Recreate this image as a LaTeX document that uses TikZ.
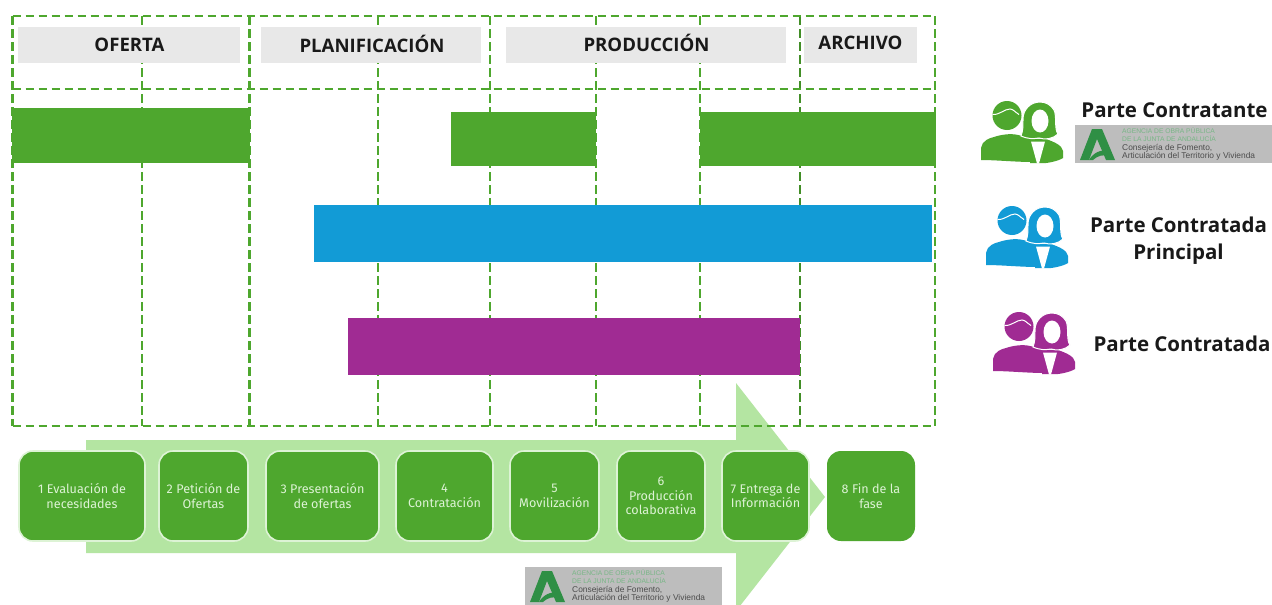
\documentclass[tikz,border=0pt]{standalone}
\usepackage{fontspec}
\setmainfont{Liberation Sans}
\newfontfamily\boxfont{Fira Sans}
\newfontfamily\headfont{Open Sans}
\definecolor{cgreen}{HTML}{4EA72E}
\definecolor{cblue}{HTML}{129BD6}
\definecolor{cpurple}{HTML}{A02B93}
\definecolor{clight}{HTML}{B4E5A2}
\definecolor{cgrey}{HTML}{E8E8E8}
\definecolor{clogo}{HTML}{BDBDBD}
\definecolor{clogoA}{HTML}{2F8F45}
\definecolor{cboxtext}{HTML}{DDF3D5}
\tikzset{
  x=1pt,y=-1pt,
  gridline/.style={draw=cgreen,line width=2.2pt,dash pattern=on 8.5pt off 4.5pt},
  thingrid/.style={draw=cgreen!85!black,line width=1.2pt,dash pattern=on 8.5pt off 4.5pt},
  header/.style={fill=cgrey,inner sep=0pt,anchor=center},
  headtext/.style={inner sep=0pt,text=black!90,font=\headfont\fontsize{18.6}{22}\selectfont\bfseries},
  stage/.style={fill=cgreen,draw=cboxtext,line width=1.6pt,rounded corners=14pt,inner sep=0pt,minimum height=90pt,align=center,text=cboxtext,font=\boxfont\fontsize{12.6}{14.5}\selectfont},
  legend/.style={align=center,font=\headfont\fontsize{20.5}{27}\selectfont\bfseries,text=black!90},
  logotext/.style={anchor=west,inner sep=0pt},
  logohi/.style={logotext,text=clogoA!65!white,font=\fontsize{6.7}{8}\selectfont},
  logolo/.style={logotext,text=black!70,font=\fontsize{8.4}{8}\selectfont},
  pics/people/.style={code={
    % man
    \fill[#1] (27,13.5) circle (14.5);
    \draw[white,line width=1pt] (12.5,12.5) .. controls (20,13) and (24,7) .. (30,7) .. controls (33,7) and (35,10) .. (39,12.5);
    \fill[#1] (1,58) -- (1,46) .. controls (2,39) and (9,36) .. (14,35) .. controls (20,33) and (30,31) .. (38,33) -- (52,36) -- (52,60) .. controls (36,60) and (16,58) .. (1,58) -- cycle;
    % woman
    \fill[#1] (66,37) .. controls (74,40) and (82,43) .. (83,49) -- (83,56) .. controls (80,58) and (74,60) .. (66,61) -- (50,61) -- (50,37) -- cycle;
    \filldraw[#1,draw=white,line width=1pt] (60,0) .. controls (50,0) and (43,8) .. (43,17) .. controls (43,24) and (43,29) .. (41,34) .. controls (48,37) and (53,37) .. (59,36) .. controls (65,38) and (73,37) .. (78,32) .. controls (74,27) and (77,14) .. (74,8) .. controls (71,3) and (66,0) .. (60,0) -- cycle;
    \fill[white] (60,19) ellipse (8.5 and 11.5);
    \fill[white] (51,39.5) -- (65,39.5) -- (59,61.5) -- (57,61.5) -- cycle;
  }},
  pics/logo/.style={code={
    \fill[clogo] (0,0) rectangle (197,38);
    \fill[clogoA] (17,4) -- (27,4) -- (40,35) -- (31,35) -- (22,14) -- (14,35) -- (5,35) -- cycle;
    \fill[clogoA] (14,35) .. controls (18,28) and (26,24) .. (33,26) -- (35,31) .. controls (28,29) and (22,31) .. (18,35) -- cycle;
    \node[logohi] (-a) at (47,6) {AGENCIA DE OBRA PÚBLICA};
    \node[logohi] (-b) at (47,14) {DE LA JUNTA DE ANDALUCÍA};
    \node[logolo] (-c) at (47,23) {Consejería de Fomento,};
    \node[logolo] (-d) at (47,31) {Articulación del Territorio y Vivienda};
  }}
}
\begin{document}
\begin{tikzpicture}
\clip (0,0) rectangle (1272,605);
\fill[white] (0,0) rectangle (1272,605);
% arrow
\fill[clight] (86,440) -- (736,440) -- (736,383) -- (825,497) -- (736,611) -- (736,553) -- (86,553) -- cycle;
% grid
\foreach \x in {12.5,142,249.5,378,490,596,700,935}
  \draw[gridline] (\x,16) -- (\x,426);
\draw[thingrid] (800,16) -- (800,426);
\foreach \y in {16,89,426}
  \draw[gridline] (12.5,\y) -- (935,\y);
% headers
\node[header,minimum width=222pt,minimum height=36pt] (h1) at (129,45) {};
\node[header,minimum width=220pt,minimum height=36pt] (h2) at (371,45) {};
\node[header,minimum width=280pt,minimum height=36pt] (h3) at (646,45) {};
\node[header,minimum width=113pt,minimum height=36pt] (h4) at (860.5,45) {};
\node[headtext] (h1t) at (129.5,45) {OFERTA};
\node[headtext] (h2t) at (372,44) {PLANIFICACIÓN};
\node[headtext] (h3t) at (646.5,42.5) {PRODUCCIÓN};
\node[headtext] (h4t) at (860.5,43) {ARCHIVO};
% bars
\fill[cgreen] (12,108) rectangle (249.5,163);
\fill[cgreen] (451,112) rectangle (596,166);
\fill[cgreen] (700,112) rectangle (936,166);
\fill[cblue] (314,205) rectangle (932,262);
\fill[cpurple] (348,318) rectangle (800,375);
% stages
\node[stage,minimum width=126pt] (s1) at (82,496) {1 Evaluación de\\necesidades};
\node[stage,minimum width=89pt] (s2) at (203.5,496) {2 Petición de\\Ofertas};
\node[stage,minimum width=113pt] (s3) at (322.5,496) {3 Presentación\\de ofertas};
\node[stage,minimum width=97pt] (s4) at (444.5,496) {4\\Contratación};
\node[stage,minimum width=89pt] (s5) at (554.5,496) {5\\Movilización};
\node[stage,minimum width=88pt] (s6) at (661,496) {6\\Producción\\colaborativa};
\node[stage,minimum width=87pt] (s7) at (765.5,496) {7 Entrega de\\Información};
\node[stage,draw=none,minimum width=88pt] (s8) at (871,496) {8 Fin de la\\fase};
% legend
\pic at (980,102) {people=cgreen};
\pic at (985,207) {people=cblue};
\pic at (992,313) {people=cpurple};
\node[legend] (l1) at (1174.5,110) {Parte Contratante};
\node[legend] (l2) at (1178.5,241) {Parte Contratada\\Principal};
\node[legend] (l3) at (1182,344) {Parte Contratada};
% logos
\pic (logoa) at (1075,125) {logo};
\pic (logob) at (525,567) {logo};
\end{tikzpicture}
\end{document}
